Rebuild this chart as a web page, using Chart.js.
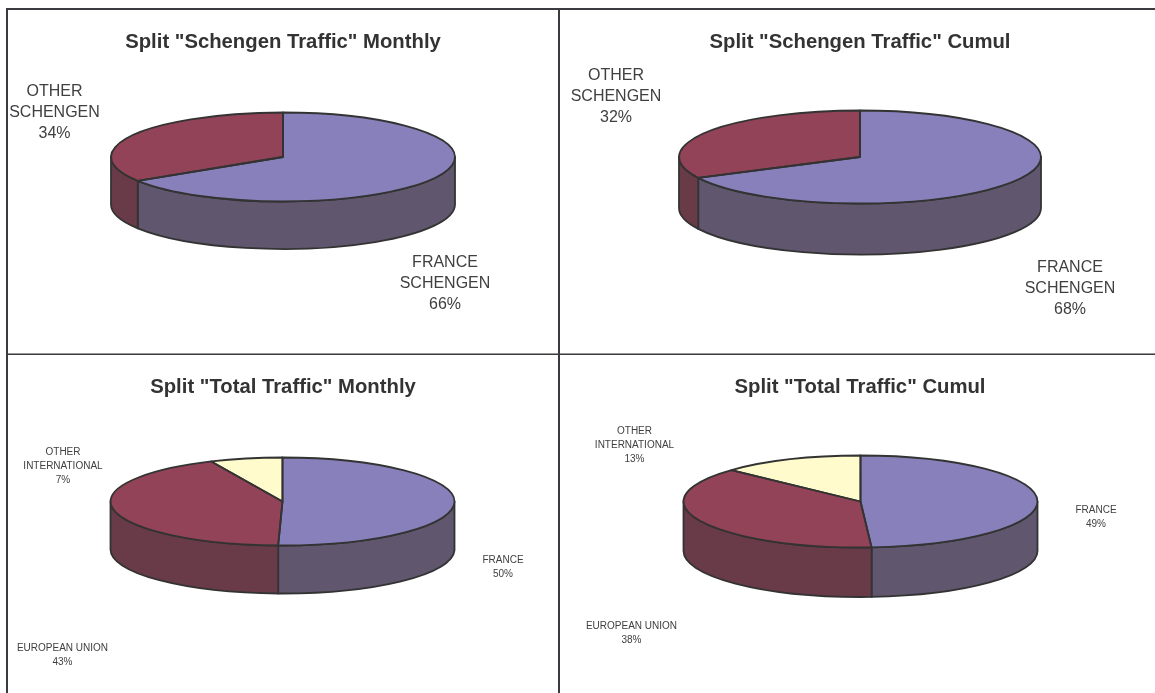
<!DOCTYPE html>
<html>
<head>
<meta charset="utf-8">
<title>Split traffic</title>
<script src="https://cdn.jsdelivr.net/npm/chart.js@4"></script>
<style>
  html, body { margin: 0; padding: 0; background: #fff; }
  body { position: relative; width: 1155px; height: 693px; overflow: hidden; }
  canvas { position: absolute; }
  .rule { position: absolute; background: #3a3a40; }
</style>
</head>
<body>
<div class="rule" style="left:6px;top:8px;width:1149px;height:2px"></div>
<div class="rule" style="left:6px;top:353px;width:1149px;height:1px;border-top:1px solid #999"></div>
<div class="rule" style="left:6px;top:8px;width:2px;height:685px"></div>
<div class="rule" style="left:558px;top:8px;width:2px;height:685px"></div>
<script>
const schengenCategories = [["FRANCE", "SCHENGEN"], ["OTHER", "SCHENGEN"]];
const schengenMonthly = [66, 34];
const schengenCumul = [67.6, 32.4];

const totalCategories = [["FRANCE"], ["EUROPEAN UNION"], ["OTHER", "INTERNATIONAL"]];
const totalMonthly = [50.4, 42.8, 6.8];
const totalCumul = [49, 38, 13];

const topColors = ["#8880bb", "#924358", "#fffbcc"];
const sideColors = ["#60566e", "#693a47", "#807c66"];
const inkColor = "#333333";
const labelColor = "#404040";

const panels = [
  { id: "c1", title: 'Split "Schengen Traffic" Monthly', labels: schengenCategories, values: schengenMonthly,
    left: 8, top: 10, width: 550, height: 344, cx: 283, cy: 157, rx: 172, ry: 44.5, depth: 47.5,
    fontSize: 16, lineGap: 21,
    anchors: [{ x: 445, y: 262.5 }, { x: 54.5, y: 91.5 }] },
  { id: "c2", title: 'Split "Schengen Traffic" Cumul', labels: schengenCategories, values: schengenCumul,
    left: 560, top: 10, width: 600, height: 344, cx: 860, cy: 157, rx: 181, ry: 46.5, depth: 51,
    fontSize: 16, lineGap: 21,
    anchors: [{ x: 1070, y: 267.5 }, { x: 616, y: 75.5 }] },
  { id: "c3", title: 'Split "Total Traffic" Monthly', labels: totalCategories, values: totalMonthly,
    left: 8, top: 355, width: 550, height: 338, cx: 282.5, cy: 501.5, rx: 172, ry: 44, depth: 48,
    fontSize: 10, lineGap: 14,
    anchors: [{ x: 503, y: 560.5 }, { x: 62.5, y: 648 }, { x: 63, y: 452 }] },
  { id: "c4", title: 'Split "Total Traffic" Cumul', labels: totalCategories, values: totalCumul,
    left: 560, top: 355, width: 600, height: 338, cx: 860.5, cy: 501.5, rx: 177, ry: 46, depth: 49.5,
    fontSize: 10, lineGap: 14,
    anchors: [{ x: 1096, y: 510 }, { x: 631.5, y: 626.5 }, { x: 634.5, y: 431 }] }
];

// flattens the doughnut arcs into a disc and adds the rim below it
const discPlugin = {
  id: "disc",
  beforeDatasetsDraw(chart, args, opts) {
    const ctx = chart.ctx;
    const arcs = chart.getDatasetMeta(0).data;
    ctx.save();
    ctx.lineWidth = 1.8;
    ctx.lineJoin = "round";
    ctx.strokeStyle = inkColor;
    arcs.forEach((arc, i) => {
      const from = Math.max(arc.startAngle, 0);
      const to = Math.min(arc.endAngle, Math.PI);
      if (from >= to) return;
      ctx.beginPath();
      ctx.ellipse(opts.cx, opts.cy, opts.rx, opts.ry, 0, from, to);
      ctx.ellipse(opts.cx, opts.cy + opts.depth, opts.rx, opts.ry, 0, to, from, true);
      ctx.closePath();
      ctx.fillStyle = sideColors[i];
      ctx.fill();
      ctx.stroke();
    });
    ctx.restore();

    const first = arcs[0];
    ctx.save();
    ctx.translate(opts.cx, opts.cy);
    ctx.scale(opts.rx / first.outerRadius, opts.ry / first.outerRadius);
    ctx.translate(-first.x, -first.y);
  },
  afterDatasetsDraw(chart, args, opts) {
    const ctx = chart.ctx;
    ctx.restore();
    ctx.save();
    ctx.lineWidth = 1.8;
    ctx.lineJoin = "round";
    ctx.strokeStyle = inkColor;
    chart.getDatasetMeta(0).data.forEach(arc => {
      ctx.beginPath();
      ctx.moveTo(opts.cx, opts.cy);
      ctx.ellipse(opts.cx, opts.cy, opts.rx, opts.ry, 0, arc.startAngle, arc.endAngle);
      ctx.closePath();
      ctx.stroke();
    });
    ctx.restore();
  },
  afterDraw(chart, args, opts) {
    const ctx = chart.ctx;
    const values = chart.data.datasets[0].data;
    ctx.save();
    ctx.fillStyle = labelColor;
    ctx.font = `${opts.fontSize}px "Liberation Sans"`;
    ctx.textAlign = "center";
    ctx.textBaseline = "middle";
    chart.data.labels.forEach((lines, i) => {
      const rows = [...lines, `${Math.round(values[i])}%`];
      rows.forEach((row, r) => {
        ctx.fillText(row, opts.anchors[i].x, opts.anchors[i].y + r * opts.lineGap);
      });
    });
    ctx.restore();
  }
};

function renderPanel(p) {
  const canvas = document.createElement("canvas");
  canvas.id = p.id;
  canvas.width = p.width;
  canvas.height = p.height;
  canvas.style.left = p.left + "px";
  canvas.style.top = p.top + "px";
  document.body.appendChild(canvas);

  new Chart(canvas, {
    type: "pie",
    data: {
      labels: p.labels,
      datasets: [{
        data: p.values,
        backgroundColor: topColors.slice(0, p.values.length),
        borderWidth: 0,
        clip: false
      }]
    },
    options: {
      responsive: false,
      animation: false,
      plugins: {
        legend: { display: false },
        tooltip: { enabled: false },
        title: {
          display: true,
          text: p.title,
          color: inkColor,
          font: { family: '"Liberation Sans"', size: 20.3, weight: "bold" },
          padding: { top: 20, bottom: 4 }
        },
        disc: {
          cx: p.cx - p.left,
          cy: p.cy - p.top,
          rx: p.rx,
          ry: p.ry,
          depth: p.depth,
          fontSize: p.fontSize,
          lineGap: p.lineGap,
          anchors: p.anchors.map(a => ({ x: a.x - p.left, y: a.y - p.top }))
        }
      }
    },
    plugins: [discPlugin]
  });
}

panels.forEach(renderPanel);
</script>
</body>
</html>
